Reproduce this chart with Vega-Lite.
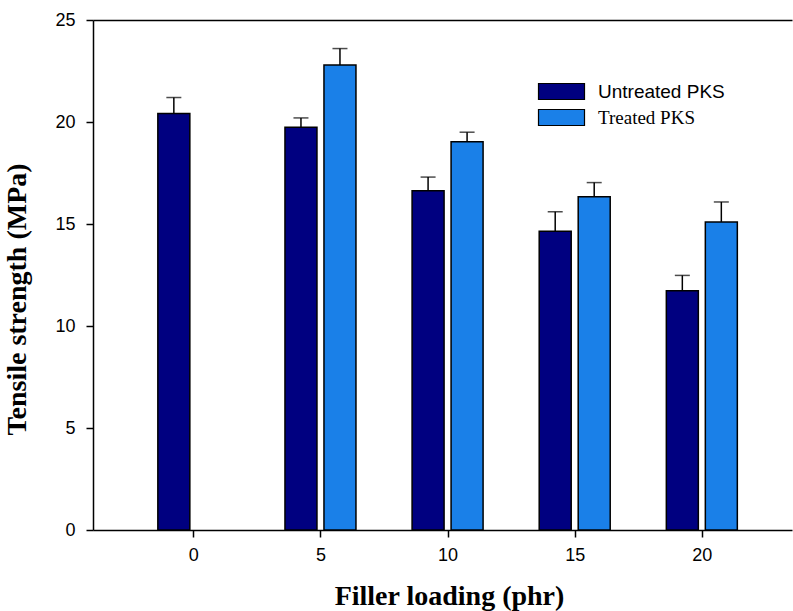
{
  "$schema": "https://vega.github.io/schema/vega-lite/v6.json",
  "width": 699,
  "height": 510,
  "autosize": {"type": "none"},
  "padding": {"left": 93, "top": 20, "right": 1, "bottom": 81},
  "background": "white",
  "config": {
    "view": {"stroke": null},
    "axis": {
      "domainColor": "black", "domainWidth": 1.5, "tickColor": "black", "tickWidth": 1.5, "tickSize": 7,
      "labelFont": "Liberation Sans", "labelFontSize": 18, "labelColor": "black", "grid": false,
      "titleFont": "Liberation Serif", "titleFontWeight": "bold", "titleFontSize": 28, "titleColor": "black"
    }
  },
  "data": {
    "values": [
      {"loading": 0, "series": "Untreated PKS", "value": 20.42, "upper": 21.2},
      {"loading": 5, "series": "Untreated PKS", "value": 19.74, "upper": 20.2},
      {"loading": 5, "series": "Treated PKS", "value": 22.8, "upper": 23.6},
      {"loading": 10, "series": "Untreated PKS", "value": 16.63, "upper": 17.3},
      {"loading": 10, "series": "Treated PKS", "value": 19.03, "upper": 19.5},
      {"loading": 15, "series": "Untreated PKS", "value": 14.64, "upper": 15.6},
      {"loading": 15, "series": "Treated PKS", "value": 16.34, "upper": 17.03},
      {"loading": 20, "series": "Untreated PKS", "value": 11.73, "upper": 12.48},
      {"loading": 20, "series": "Treated PKS", "value": 15.1, "upper": 16.08}
    ]
  },
  "resolve": {"axis": {"x": "independent"}},
  "layer": [
    {
      "transform": [{"filter": "datum.series == 'Untreated PKS'"}],
      "mark": {"type": "rule", "xOffset": -19.5, "strokeWidth": 1.5, "color": "black"},
      "encoding": {
        "x": {"field": "loading", "type": "quantitative", "axis": null},
        "y": {"field": "value", "type": "quantitative"},
        "y2": {"field": "upper"}
      }
    },
    {
      "transform": [{"filter": "datum.series == 'Treated PKS'"}],
      "mark": {"type": "rule", "xOffset": 19.5, "strokeWidth": 1.5, "color": "black"},
      "encoding": {
        "x": {"field": "loading", "type": "quantitative", "axis": null},
        "y": {"field": "value", "type": "quantitative"},
        "y2": {"field": "upper"}
      }
    },
    {
      "transform": [{"filter": "datum.series == 'Untreated PKS'"}],
      "mark": {"type": "tick", "orient": "horizontal", "size": 15, "thickness": 1.5, "xOffset": -19.5, "color": "black"},
      "encoding": {
        "x": {"field": "loading", "type": "quantitative", "axis": null},
        "y": {"field": "upper", "type": "quantitative"}
      }
    },
    {
      "transform": [{"filter": "datum.series == 'Treated PKS'"}],
      "mark": {"type": "tick", "orient": "horizontal", "size": 15, "thickness": 1.5, "xOffset": 19.5, "color": "black"},
      "encoding": {
        "x": {"field": "loading", "type": "quantitative", "axis": {"orient": "top", "labels": false, "ticks": false, "title": null, "domainWidth": 1.5}},
        "y": {"field": "upper", "type": "quantitative"}
      }
    },
    {
      "transform": [{"filter": "datum.series == 'Untreated PKS'"}],
      "mark": {"type": "bar", "width": 32, "xOffset": -19.5, "stroke": "black", "strokeWidth": 1.5},
      "encoding": {
        "x": {
          "field": "loading", "type": "quantitative",
          "scale": {"domain": [-3.75, 23.35], "nice": false, "zero": false},
          "axis": {"values": [0, 5, 10, 15, 20], "title": "Filler loading (phr)", "labelPadding": 9,
                   "titleX": 356, "titleY": 66, "titleBaseline": "middle", "titleAnchor": "start", "titleAlign": "center"}
        },
        "y": {
          "field": "value", "type": "quantitative",
          "scale": {"domain": [0, 25], "nice": false},
          "axis": {"values": [0, 5, 10, 15, 20, 25], "title": "Tensile strength (MPa)", "labelPadding": 11,
                   "titleX": -76, "titleY": 279, "titleBaseline": "middle", "titleAlign": "center", "titleAngle": -90}
        },
        "color": {
          "field": "series", "type": "nominal",
          "scale": {"domain": ["Untreated PKS", "Treated PKS"], "range": ["#000080", "#1a80e8"]},
          "legend": {
            "title": null, "orient": "none", "legendX": 459, "legendY": 62, "padding": 0,
            "symbolType": "M-2.875,-1H2.875V1H-2.875Z", "symbolSize": 256, "symbolStrokeColor": "black", "symbolStrokeWidth": 1.2,
            "symbolOpacity": 1, "labelFontSize": 19, "labelFont": "Liberation Sans", "labelColor": "black", "labelOffset": 27,
            "rowPadding": 5,
            "encode": {"labels": {"update": {"font": {"signal": "datum.label === 'Treated PKS' ? 'Liberation Serif' : 'Liberation Sans'"}}}}
          }
        }
      }
    },
    {
      "transform": [{"filter": "datum.series == 'Treated PKS'"}],
      "mark": {"type": "bar", "width": 32, "xOffset": 19.5, "stroke": "black", "strokeWidth": 1.5},
      "encoding": {
        "x": {"field": "loading", "type": "quantitative", "axis": null},
        "y": {"field": "value", "type": "quantitative"},
        "color": {"field": "series", "type": "nominal"}
      }
    }
  ]
}
